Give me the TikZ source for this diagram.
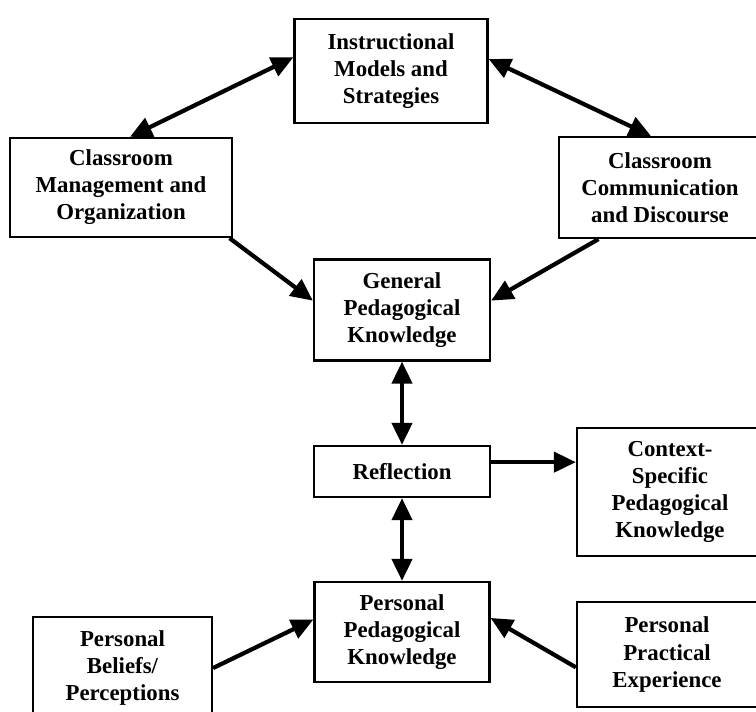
\documentclass[tikz,border=0pt]{standalone}
\usepackage{fontspec}
\setmainfont{Liberation Serif}
\usetikzlibrary{arrows.meta}
\begin{document}
\begin{tikzpicture}[x=0.02cm,y=-0.02cm,
		kbox/.style={draw,line width=1.3pt,align=center,inner sep=0pt,
			font=\bfseries\fontsize{13}{15.4}\selectfont},
		link/.style={line width=2.4pt},
		>={Triangle[length=0.44cm,width=0.4cm]}]
	\useasboundingbox (0,0) rectangle (756,711);
	\path
		  (391, 71)   node[kbox,minimum width=3.86cm,minimum height=2.08cm] (instr)   {Instructional\\Models and\\Strategies}
		  (121, 187.5) node[kbox,minimum width=4.44cm,minimum height=1.98cm] (mgmt)    {Classroom\\Management and\\Organization}
		  (660, 187.5) node[kbox,minimum width=4.04cm,minimum height=2.02cm] (comm)    {Classroom\\Communication\\and Discourse}
		  (402, 310)  node[kbox,minimum width=3.52cm,minimum height=2.02cm] (gen)     {General\\Pedagogical\\Knowledge}
		  (402, 471.5) node[kbox,minimum width=3.52cm,minimum height=1.02cm] (refl)    {Reflection}
		  (670, 492)  node[kbox,minimum width=3.72cm,minimum height=2.56cm] (ctx)     {Context-\\Specific\\Pedagogical\\Knowledge}
		  (402, 632)  node[kbox,minimum width=3.5cm,minimum height=2cm]     (pers)    {Personal\\Pedagogical\\Knowledge}
		  (122.5,668) node[kbox,minimum width=3.58cm,minimum height=2.04cm] (beliefs) {Personal\\Beliefs/\\Perceptions}
		  (667, 654.5) node[kbox,minimum width=3.6cm,minimum height=2.1cm]  (pract)   {Personal\\Practical\\Experience}
	;
	\draw[link,<->] (mgmt.80)  -- (instr.172);
	\draw[link,<->] (instr.7)  -- (comm.100);
	\draw[link,->]  (mgmt.-25) -- (gen.174);
	\draw[link,->]  (comm.220) -- (gen.6);
	\draw[link,<->] (gen.south) -- (refl.north);
	\draw[link,->]  (refl.6)   -- (refl.6 -| ctx.west);
	\draw[link,<->] (refl.south) -- (pers.north);
	\draw[link,->]  (beliefs.east) -- (pers.172);
	\draw[link,->]  (pract.188) -- (pers.9);
\end{tikzpicture}
\end{document}
